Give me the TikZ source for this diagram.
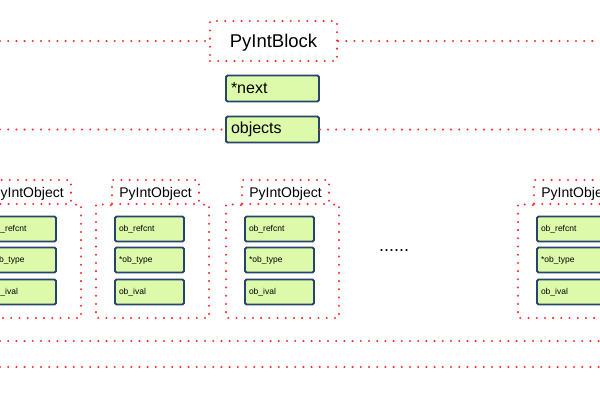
\documentclass[tikz,border=0pt]{standalone}
\usepackage{fontspec}
\setmainfont{Liberation Sans}
\definecolor{dotred}{RGB}{255,45,45}
\definecolor{cellfill}{RGB}{221,250,170}
\definecolor{celledge}{RGB}{38,68,108}

\begin{document}
\begin{tikzpicture}[x=1pt, y=-1pt,
    dotline/.style={draw=dotred, line width=2.3pt, line cap=round, dash pattern=on 0pt off 8.2pt},
    cell/.style={draw=celledge, fill=cellfill, line width=1.8pt, rounded corners=1.5pt,
        inner xsep=5pt, inner ysep=0pt, text width=83pt, minimum height=26pt, align=left,
        font=\fontsize{16}{18}\selectfont},
    field/.style={cell, inner xsep=4pt, text width=61pt, minimum height=25pt,
        font=\fontsize{8.5}{10}\selectfont},
    tabbox/.style={dotline, minimum width=87pt, minimum height=24pt, inner sep=0pt,
        text depth=0pt, font=\fontsize{14}{16}\selectfont}]
    \useasboundingbox (0,0) rectangle (600,400);

    % Nodes
    \node[dotline, minimum width=127pt, minimum height=40pt, inner sep=0pt, text depth=0pt,
        font=\fontsize{18.5}{20}\selectfont] at (273.5,41) (block) {PyIntBlock};
    \node[cell] at (272.5,88.5) (next) {*next};
    \node[cell] at (272.5,129.5) (objects) {objects};
    \node[font=\fontsize{18}{20}\selectfont, anchor=base] at (394,251) (more) {......};

    \coordinate (w1) at (0,41);
    \coordinate (e1) at (600,41);
    \coordinate (w2) at (0,129.5);
    \coordinate (e2) at (600,129.5);
    \coordinate (w3) at (0,341);
    \coordinate (e3) at (600,341);
    \coordinate (w4) at (0,367);
    \coordinate (e4) at (600,367);

    % PyIntObject groups
    \foreach \x/\n in {-32/a, 96/b, 226/c, 518/d} {
        \node[tabbox] at ({\x+59.5},192) (tab\n) {PyIntObject};
        \node[field] at ({\x+53.5},229) (ref\n) {ob\_refcnt};
        \node[field] at ({\x+53.5},260) (type\n) {*ob\_type};
        \node[field] at ({\x+53.5},292) (ival\n) {ob\_ival};
        \draw[dotline] (tab\n.south west) -- ({\x},204) -- ({\x},318)
            -- ({\x+113},318) -- ({\x+113},204) -- (tab\n.south east);
    }

    % Dotted lines
    \draw[dotline] (w1) -- (block.west);
    \draw[dotline] (block.east) -- (e1);
    \draw[dotline] (w2) -- (objects.west);
    \draw[dotline] (objects.east) -- (e2);
    \draw[dotline] (w3) -- (e3);
    \draw[dotline] (w4) -- (e4);
\end{tikzpicture}
\end{document}
